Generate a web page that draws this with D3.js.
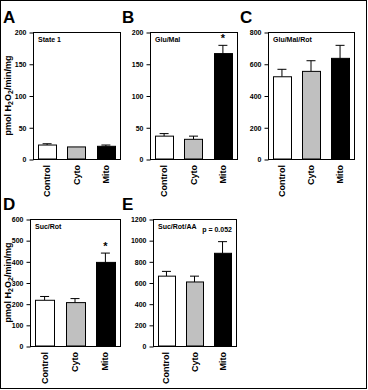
<!DOCTYPE html>
<html><head><meta charset="utf-8">
<script src="https://cdn.jsdelivr.net/npm/d3@7"></script>
<style>body{margin:0;background:#fff}svg{display:block;font-family:"Liberation Sans",Arial,sans-serif}</style>
</head><body>
<svg id="c" width="368" height="390"></svg>
<script>
const categories = ["Control", "Cyto", "Mito"];
const fills = ["#ffffff", "#c0c0c0", "#000000"];
const panelLetters = ["A", "B", "C", "D", "E"];
const conditionLabels = ["State 1", "Glu/Mal", "Glu/Mal/Rot", "Suc/Rot", "Suc/Rot/AA"];
const meansA = [22, 19, 20], errA = [2, 0, 2];
const meansB = [36, 31, 166], errB = [4, 5, 13];
const meansC = [518, 552, 634], errC = [47, 67, 82];
const meansD = [216, 205, 395], errD = [18, 19, 44];
const meansE = [660, 605, 876], errE = [45, 55, 110];
const yMaxes = [200, 200, 800, 600, 1200];
const yStep = [50, 50, 200, 100, 200];
const starFlags = [[0,0,0],[0,0,1],[0,0,0],[0,0,1],[0,0,0]];
const pNotes = ["", "", "", "", "p = 0.052"];

const layout = [
  {x0:33, x1:120, y0:32, y1:159, lx:3, ly:23, yTitle:true},
  {x0:150, x1:237, y0:32, y1:159, lx:122, ly:23},
  {x0:268, x1:354, y0:32, y1:159, lx:240, ly:23},
  {x0:30, x1:120, y0:219, y1:346, lx:3, ly:210, yTitle:true},
  {x0:153, x1:236, y0:219, y1:346, lx:122, ly:210}
];
const means = [meansA, meansB, meansC, meansD, meansE];
const errs = [errA, errB, errC, errD, errE];

const svg = d3.select("#c");
svg.append("rect").attr("x",0.5).attr("y",0.5).attr("width",366).attr("height",388)
  .attr("fill","none").attr("stroke","#000");

layout.forEach((L, i) => {
  const g = svg.append("g");
  const x = d3.scaleBand().domain(categories).range([L.x0, L.x1]).paddingInner(0.38).paddingOuter(0.17);
  const y = d3.scaleLinear().domain([0, yMaxes[i]]).range([L.y1, L.y0]);
  const data = categories.map((c, k) => ({c, v: means[i][k], e: errs[i][k], f: fills[k], s: starFlags[i][k]}));

  data.forEach(d => {
    if (d.e > 0) {
      const cx = x(d.c) + x.bandwidth()/2;
      g.append("line").attr("x1",cx).attr("x2",cx).attr("y1",y(d.v)).attr("y2",y(d.v+d.e)).attr("stroke","#000");
      g.append("line").attr("x1",cx-4.5).attr("x2",cx+4.5).attr("y1",y(d.v+d.e)).attr("y2",y(d.v+d.e)).attr("stroke","#000");
    }
  });
  g.selectAll("rect.bar").data(data).join("rect").attr("class","bar")
    .attr("x", d => Math.round(x(d.c)) + 0.5).attr("width", Math.round(x.bandwidth()))
    .attr("y", d => y(d.v)).attr("height", d => y(0) - y(d.v))
    .attr("fill", d => d.f).attr("stroke", "#000");
  data.filter(d => d.s).forEach(d => {
    g.append("text").attr("x", x(d.c) + x.bandwidth()/2).attr("y", y(d.v+d.e) - 3)
      .attr("text-anchor","middle").attr("font-size",11).attr("font-weight","bold").text("*");
  });
  g.append("rect").attr("x",L.x0+0.5).attr("y",L.y0+0.5).attr("width",L.x1-L.x0).attr("height",L.y1-L.y0)
    .attr("fill","none").attr("stroke","#000");
  const ya = d3.axisLeft(y).tickValues(d3.range(0, yMaxes[i]+1, yStep[i])).tickFormat(d3.format("d")).tickSize(4).tickPadding(3);
  const ag = g.append("g").attr("transform", `translate(${L.x0+0.5},0.5)`).call(ya);
  ag.select(".domain").remove();
  ag.selectAll("text").attr("font-size",7).attr("font-weight","bold").attr("font-family","Liberation Sans, Arial, sans-serif");
  data.forEach(d => {
    const cx = x(d.c) + x.bandwidth()/2 + 3;
    g.append("text").attr("transform", `translate(${cx},${L.y1+6}) rotate(-90)`)
      .attr("text-anchor","end").attr("font-size",9).attr("font-weight","bold").text(d.c);
  });
  g.append("text").attr("x", L.x0+5).attr("y", L.y0+10).attr("font-size",7).attr("font-weight","bold").text(conditionLabels[i]);
  if (pNotes[i]) g.append("text").attr("x", L.x1-4).attr("y", L.y0+13).attr("text-anchor","end")
      .attr("font-size",7).attr("font-weight","bold").text(pNotes[i]);
  g.append("text").attr("x", L.lx).attr("y", L.ly).attr("font-size",17).attr("font-weight","bold").text(panelLetters[i]);
  if (L.yTitle) {
    const t = g.append("text").attr("transform", `translate(11,${(L.y0+L.y1)/2}) rotate(-90)`)
      .attr("text-anchor","middle").attr("font-size",9).attr("font-weight","bold");
    t.append("tspan").text("pmol H");
    t.append("tspan").attr("font-size",7).attr("dy",2).text("2");
    t.append("tspan").attr("dy",-2).text("O");
    t.append("tspan").attr("font-size",7).attr("dy",2).text("2");
    t.append("tspan").attr("dy",-2).text("/min/mg");
  }
});
</script>
</body></html>
